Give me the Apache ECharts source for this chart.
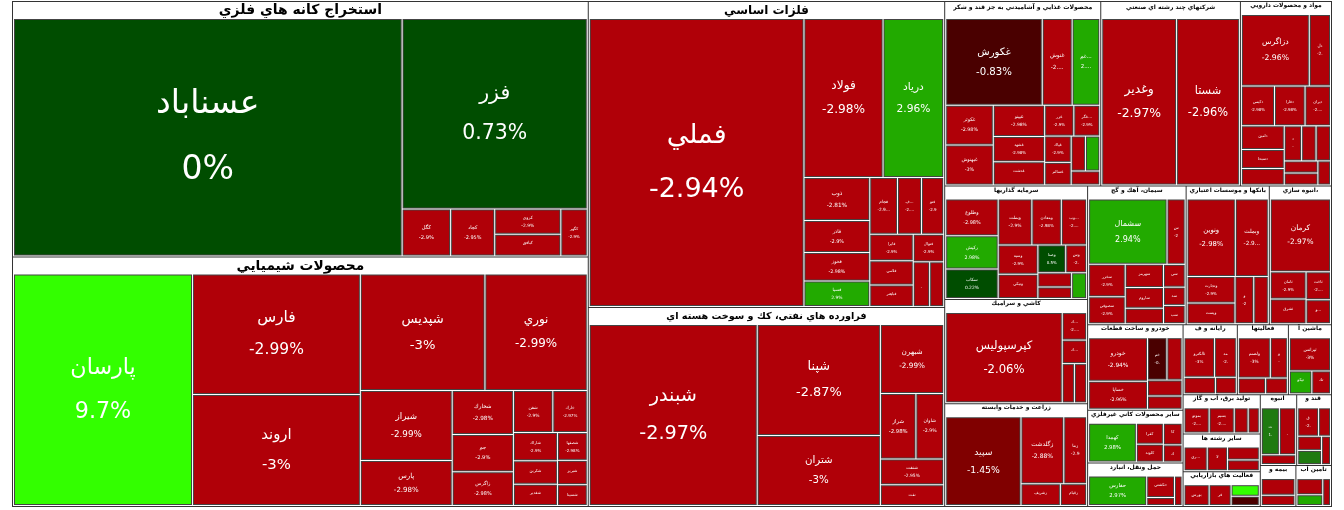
<!DOCTYPE html>
<html>
<head>
<meta charset="utf-8">
<script src="https://cdn.jsdelivr.net/npm/echarts@6/dist/echarts.min.js"></script>
<style>html,body{margin:0;padding:0;background:#fff}#chart{width:1344px;height:510px}</style>
</head>
<body>
<div id="chart"></div>
<script>
// [نماد, ارزش بازار (تقريبي), درصد تغيير]
var kaneh = [['عسناباد', 89, 0], ['فزر', 34, 0.73], ['كگل', 2.2, -2.9], ['كچاد', 2.0, -2.95], ['كروي', 1.6, -2.9], ['كبافق', 1.4, -2.97], ['كگهر', 1.2, -2.9]];
var shimi = [['پارسان', 40, 9.7], ['فارس', 19.5, -2.99], ['اروند', 18, -3], ['شپديس', 14, -3], ['نوري', 11.5, -2.99], ['شيراز', 6.2, -2.99], ['پارس', 4.0, -2.98], ['شخارك', 2.6, -2.98], ['جم', 2.2, -2.9], ['زاگرس', 2.0, -2.98], ['شفن', 1.6, -2.9], ['خارك', 1.4, -2.97], ['شاراك', 1.2, -2.9], ['شكربن', 1.0, -2.98], ['شغدير', 0.9, -2.9], ['شصفها', 0.8, -2.98], ['شبريز', 0.7, -2.9], ['شسينا', 0.6, -2.96]];
var felezat = [['فملي', 59, -2.94], ['فولاد', 12, -2.98], ['درياد', 9.2, 2.96], ['ذوب', 2.7, -2.81], ['فاذر', 2.0, -2.9], ['فخوز', 1.8, -2.98], ['فسپا', 1.6, 2.9], ['فجام', 1.5, -2.96], ['فسرب', 1.3, -2.9], ['فنورد', 1.2, -2.98], ['فايرا', 1.1, -2.9], ['فلامي', 1.0, -2.95], ['فباهنر', 0.9, -2.9], ['فنوال', 0.8, -2.9], ['فگستر', 0.7, -2.97], ['فافزا', 0.6, -2.9]];
var naft = [['شبندر', 30, -2.97], ['شپنا', 13.5, -2.87], ['شتران', 8.5, -3], ['شبهرن', 4.3, -2.99], ['شراز', 2.3, -2.98], ['شاوان', 1.8, -2.9], ['شنفت', 1.6, -2.95], ['نفت', 1.3, -2.9]];
var ghaza = [['غكورش', 8.4, -0.83], ['غنوش', 2.6, -2.25], ['غمارگ', 2.4, 2.98], ['غبهنوش', 1.9, -3], ['غكوثر', 1.9, -2.98], ['غپينو', 1.6, -2.98], ['غشهد', 1.3, -2.98], ['غدشت', 1.2, -2.9], ['غزر', 0.9, -2.9], ['غگرجي', 0.8, -2.9], ['غپاك', 0.7, -2.9], ['غسالم', 0.6, -2.9], ['غگلپا', 0.5, 2.9], ['غچين', 0.5, -2.9], ['غنيلي', 0.4, -2.9]];
var chand = [['وغدير', 12.5, -2.97], ['شستا', 10.5, -2.96]];
var darou = [['دزاگرس', 4.8, -2.96], ['دلقما', 1.5, -2.98], ['دكيمي', 1.3, -2.98], ['دفارا', 1.2, -2.98], ['دامين', 1.0, -2.9], ['ديران', 1.0, -2.9], ['دسبحا', 0.8, -2.9], ['دجابر', 0.7, -2.9], ['دعبيد', 0.6, -2.9], ['دالبر', 0.5, -2.9], ['دتماد', 0.5, -2.9], ['دشيمي', 0.4, -2.9], ['دكوثر', 0.4, -2.9], ['دپارس', 0.3, -2.9]];
var sarmaye = [['وطلوع', 2.0, -2.98], ['ركيش', 1.8, 2.98], ['وبملت', 1.6, -2.9], ['ومعادن', 1.4, -2.98], ['وسپه', 1.2, -2.9], ['سكاب', 1.6, 0.22], ['وبوعلي', 1.2, -2.9], ['ونيكي', 1.0, -2.9], ['وصنا', 0.8, 0.5], ['وسكاب', 0.6, -2.9], ['وپاسار', 0.5, -2.9], ['ونفت', 0.4, 2.9], ['وتوسم', 0.4, -2.9]];
var bank = [['ونوين', 3.8, -2.98], ['وبملت', 2.6, -2.97], ['وتجارت', 1.3, -2.9], ['وپست', 1.0, -2.9], ['وصادر', 0.9, -2.9], ['وخاور', 0.7, -2.9]];
var anbouh = [['كرمان', 4.5, -2.97], ['ثامان', 1.0, -2.9], ['ثشرق', 0.9, -2.9], ['ثاخت', 0.7, -2.9], ['وساخت', 0.6, -2.9]];
var khodro = [['خودرو', 2.8, -2.94], ['خساپا', 1.8, -2.96], ['خمحور', 0.9, -0.8], ['خگستر', 0.7, -2.9], ['خپارس', 0.6, -2.9], ['خكاوه', 0.5, -2.9]];
var zeraat = [['سپيد', 7.0, -1.45], ['زگلدشت', 3.0, -2.88], ['زماهان', 1.6, -2.9], ['زشريف', 0.9, -2.9], ['زقيام', 0.6, -2.9]];
var kashi = [['كپرسپوليس', 11, -2.06], ['كسرام', 0.7, -2.9], ['كسعدي', 0.6, -2.9], ['كحافظ', 0.5, -2.9], ['كساوه', 0.5, -2.9]];
var siman = [['سشمال', 5.2, 2.94], ['سخزر', 1.2, -2.9], ['سفارس', 1.2, -2.98], ['سصوفي', 1.0, -2.9], ['سهرمز', 0.9, -2.98], ['ساروم', 0.8, -2.9], ['سكرما', 0.6, -2.9], ['سيلام', 0.5, -2.9], ['سبهان', 0.4, -2.9], ['سدور', 0.4, -2.9]];
var kani = [['كهمدا', 2.3, 2.98], ['كفرا', 0.7, -3], ['كلوند', 0.6, -2.9], ['كابگن', 0.5, -2.9], ['كتوكا', 0.4, -2.9]];
var barq = [['بسيم', 0.9, -2.98], ['بموتو', 0.9, -2.98], ['بنيرو', 0.5, -2.9], ['بكام', 0.4, -2.9]];
var mashin = [['تيرانس', 1.6, -3], ['تپكو', 0.6, 2.9], ['تكشا', 0.5, -2.9]];
var tasisat = [['ثتران', 1.0, 1.44], ['ثباغ', 0.9, -2.9], ['ثنوسا', 0.4, -2.9]];
var haml = [['حفارس', 2.3, 2.97], ['حكشتي', 0.8, -2.98], ['حتوكا', 0.3, -2.9], ['حسينا', 0.3, -2.9]];
var rayane = [['ثالکترو', 1.4, -3], ['مداران', 1.0, -2.98], ['رتكو', 0.6, -2.9], ['رافزا', 0.4, -2.9]];
var ghand = [['قشكر', 0.7, -2.98], ['قثابت', 0.4, 1.5], ['قنيشا', 0.4, -2.9], ['قاسم', 0.4, -2.9], ['قلرست', 0.3, -2.9]];
var komaki = [['ولصنم', 1.5, -3], ['ولملت', 0.8, -2.98], ['ولساپا', 0.5, -2.9], ['ولپارس', 0.4, -2.9]];
var tejarat = [['بورس', 0.8, -2.98], ['فرابورس', 0.7, -2.98], ['ورنا', 0.5, 9], ['اپرداز', 0.4, -0.9]];
var sayer = [['ريشمك', 0.8, -2.98], ['لابسا', 0.7, -2.98], ['لسرما', 0.6, -2.9], ['پكرمان', 0.5, -2.9]];
var taminOb = [['ختوقا', 0.4, 2.9], ['پاكشو', 0.6, -2.98], ['شپاكسا', 0.3, -2.9]];
var bime = [['اتكاي', 0.8, -2.97], ['البرز', 0.5, -2.9]];

var sectors = [
  ['استخراج كانه هاي فلزي', kaneh], ['محصولات شيميايي', shimi], ['فلزات اساسي', felezat],
  ['فراورده هاي نفتي، كك و سوخت هسته اي', naft], ['محصولات غذايي و آشاميدني به جز قند و شكر', ghaza],
  ['شركتهاي چند رشته اي صنعتي', chand], ['مواد و محصولات دارويي', darou], ['سرمايه گذاريها', sarmaye],
  ['بانكها و موسسات اعتباري', bank], ['انبوه سازي، املاك و مستغلات', anbouh], ['خودرو و ساخت قطعات', khodro],
  ['زراعت و خدمات وابسته', zeraat], ['كاشي و سراميك', kashi], ['سيمان، آهك و گچ', siman],
  ['ساير محصولات كاني غيرفلزي', kani], ['توليد برق، آب و گاز', barq], ['ماشين آلات و تجهيزات', mashin],
  ['انبوه سازي و تاسيسات', tasisat], ['حمل ونقل، انبارداري و ارتباطات', haml], ['رايانه و فعاليتهاي وابسته به آن', rayane],
  ['قند و شكر', ghand], ['فعاليتهاي كمكي به نهادهاي مالي واسط', komaki], ['فعاليت هاي بازاريابي', tejarat],
  ['ساير رشته ها', sayer], ['تامين آب', taminOb], ['بيمه و صندوق بازنشستگي', bime]
];

function colorOf(c) {
  if (c >= 5) return '#33ff00';
  if (c >= 2) return '#22aa00';
  if (c >= 1) return '#1f7a10';
  if (c >= 0) return '#004d00';
  if (c > -1) return '#4a0000';
  if (c > -1.8) return '#800000';
  return '#b00008';
}

var data = sectors.map(function (s) {
  var total = s[1].reduce(function (a, b) { return a + b[1]; }, 0);
  var hs = Math.max(6, Math.min(14, Math.sqrt(total * 1000) / 26));
  return {
    name: s[0],
    upperLabel: { fontSize: hs, height: total > 15 ? 17 : 13 },
    children: s[1].map(function (d) {
      return {
        name: d[0], value: d[1], change: d[2],
        itemStyle: { color: colorOf(d[2]) },
        label: { fontSize: Math.max(4, Math.min(34, Math.sqrt(d[1] * 1000) / 9)) }
      };
    })
  };
});

var myChart = echarts.init(document.getElementById('chart'));
myChart.setOption({
  series: [{
    type: 'treemap',
    left: 12, right: 12, top: 1, bottom: 3,
    roam: false, nodeClick: false,
    breadcrumb: { show: false },
    label: {
      show: true, position: ['50%', '50%'], align: 'center', verticalAlign: 'middle',
      color: '#fff', fontFamily: 'DejaVu Sans',
      formatter: function (p) { return p.name + '\n\n' + p.data.change + '%'; }
    },
    upperLabel: {
      show: true, color: '#000', fontWeight: 'bold', fontFamily: 'DejaVu Sans',
      position: ['50%', '50%'], align: 'center', verticalAlign: 'middle', overflow: 'truncate', ellipsis: ''
    },
    levels: [
      { itemStyle: { borderColor: '#333', borderWidth: 1, gapWidth: 1 }, upperLabel: { show: false } },
      { itemStyle: { borderColor: '#fff', borderWidth: 1, gapWidth: 1 } },
      { itemStyle: { borderColor: '#444', borderWidth: 1, gapWidth: 0 } }
    ],
    data: data
  }]
});
</script>
</body>
</html>
